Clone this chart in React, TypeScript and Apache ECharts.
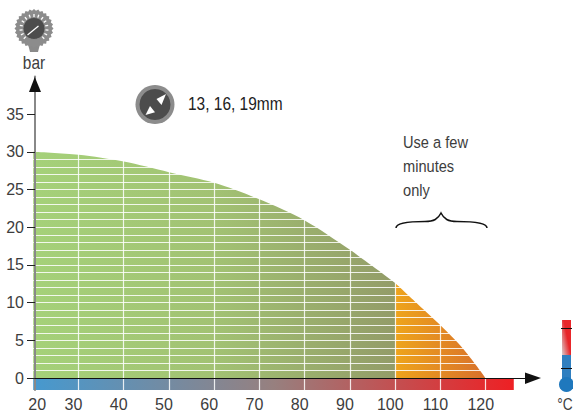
import React, { useEffect, useRef } from "react";
import * as echarts from "echarts";

const yTickValues = [0, 5, 10, 15, 20, 25, 30, 35];
const xTickValues = [20, 30, 40, 50, 60, 70, 80, 90, 100, 110, 120];
const stripeValues = [1,2,3,4,5,6,7,8,9,10,11,12,13,14,15,16,17,18,19,20,21,22,23,24,25,26,27,28,29];
const gridValues = [30, 40, 50, 60, 70, 80, 90, 100, 110, 120];
const greenCurve: [number, number][] = [
  [20, 30], [30, 29.6], [40, 28.7], [50, 27.3], [60, 25.9], [70, 23.7], [80, 20.9], [90, 17], [100, 12.6],
];
const orangeCurve: [number, number][] = [
  [100, 12.6], [105, 9.8], [110, 7], [115, 3.9], [120, 0],
];
const stripCurve: [number, number][] = [[20, -1.6], [126.2, -1.6]];
const note = ["Use a few", "minutes", "only"];
const sizesText = "13, 16, 19mm";

const FONT = '"Liberation Sans", sans-serif';
const TXT = "#3d3d3d";

echarts.graphic.registerShape(
  "brace",
  echarts.graphic.extendPath(
    "M396 228 C396 223 408 221.5 425 221.5 C434 221.5 438 219 441 213 C444 219 448 221.5 457 221.5 C474 221.5 487 223 487 228",
    {}
  )
);

function gearPoints(cx: number, cy: number, r1: number, r2: number, n: number) {
  const pts: number[][] = [];
  for (let i = 0; i < n * 2; i++) {
    const a = (i * Math.PI) / n;
    const r = i % 2 ? r2 : r1;
    pts.push([cx + r * Math.cos(a), cy + r * Math.sin(a)]);
  }
  return pts;
}

function gaugeTicks(cx: number, cy: number) {
  const out: any[] = [];
  for (let i = 0; i <= 14; i++) {
    const a = ((135 + (i * 270) / 14) * Math.PI) / 180;
    out.push({
      type: "line",
      z: 21,
      shape: {
        x1: cx + 11.5 * Math.cos(a),
        y1: cy + 11.5 * Math.sin(a),
        x2: cx + 14.5 * Math.cos(a),
        y2: cy + 14.5 * Math.sin(a),
      },
      style: { stroke: "#fff", lineWidth: 1.3 },
    });
  }
  return out;
}

function narrowText(text: string, x: number, y: number, size: number, fill: string, align = "left") {
  return {
    type: "text",
    z: 20,
    x,
    y,
    scaleX: 0.86,
    style: { x: 0, y: 0, text, align, verticalAlign: "middle", font: `${size}px ${FONT}`, fill },
  };
}

export default function App() {
  const ref = useRef<HTMLDivElement>(null);
  useEffect(() => {
    const chart = echarts.init(ref.current!, undefined, { renderer: "svg" });
    const whiteLine = { color: "rgba(255,255,255,0.85)", width: 1.2, type: "solid" as const };
    chart.setOption({
      animation: false,
      backgroundColor: "#fff",
      grid: { left: 33.2, top: 76.4, width: 491.9, height: 313.7, outerBoundsMode: "none" },
      xAxis: {
        type: "value",
        min: 20,
        max: 128.7,
        z: 10,
        splitLine: { show: false },
        axisTick: { show: false },
        axisLine: { show: true, onZero: true, lineStyle: { color: "#111", width: 1.2 } },
        axisLabel: {
          customValues: xTickValues,
          margin: 6,
          formatter: (v: number) => (v === 20 ? `{first|${v}}` : `{rest|${v}}`),
          rich: {
            first: { padding: [0, 0, 0, 8], fontFamily: FONT, fontSize: 16, color: TXT },
            rest: { padding: [0, 10, 0, 0], fontFamily: FONT, fontSize: 16, color: TXT },
          },
        },
      },
      yAxis: {
        type: "value",
        min: -1.6,
        max: 40,
        z: 10,
        offset: -1.8,
        splitLine: { show: false },
        axisLine: { show: true, lineStyle: { color: "#888", width: 2 } },
        axisTick: { show: true, customValues: yTickValues, length: 8, lineStyle: { color: "#222", width: 1 } },
        axisLabel: { customValues: yTickValues, margin: 11, fontFamily: FONT, fontSize: 16, color: TXT },
      },
      series: [
        {
          type: "line",
          data: stripCurve,
          symbol: "none",
          z: 2,
          lineStyle: { width: 0 },
          areaStyle: {
            origin: 0,
            opacity: 1,
            color: new echarts.graphic.LinearGradient(0, 0, 1, 0, [
              { offset: 0, color: "#4699cf" },
              { offset: 0.5, color: "#97807f" },
              { offset: 1, color: "#ee2024" },
            ]),
          },
        },
        {
          type: "line",
          data: greenCurve,
          smooth: 0.3,
          symbol: "none",
          z: 2,
          lineStyle: { width: 0 },
          areaStyle: {
            origin: 0,
            opacity: 1,
            color: new echarts.graphic.LinearGradient(0, 0, 1, 0, [
              { offset: 0, color: "#a5d179" },
              { offset: 0.5, color: "#a2c273" },
              { offset: 1, color: "#939c68" },
            ]),
          },
        },
        {
          type: "line",
          data: orangeCurve,
          smooth: 0.3,
          symbol: "none",
          z: 2,
          lineStyle: { width: 0 },
          areaStyle: {
            origin: 0,
            opacity: 1,
            color: new echarts.graphic.LinearGradient(0, 0, 1, 0, [
              { offset: 0, color: "#eea41c" },
              { offset: 1, color: "#d8702b" },
            ]),
          },
        },
        {
          type: "line",
          data: [],
          symbol: "none",
          z: 3,
          markLine: {
            silent: true,
            symbol: "none",
            animation: false,
            label: { show: false },
            lineStyle: whiteLine,
            data: [
              ...stripeValues.map((v) => ({ yAxis: v })),
              ...gridValues.map((v) => ({ xAxis: v })),
            ],
          },
        },
      ],
      graphic: {
        elements: [
          // axis arrows
          { type: "polygon", z: 20, shape: { points: [[34.8, 77], [41, 92], [29, 92]] }, style: { fill: "#111" } },
          { type: "polygon", z: 20, shape: { points: [[541, 378], [525, 372.5], [525, 384]] }, style: { fill: "#111" } },
          // gauge
          { type: "polygon", z: 20, shape: { points: [[28, 44], [40, 44], [38, 52], [30, 52]] }, style: { fill: "#8a8a8a" } },
          { type: "polygon", z: 20, shape: { points: gearPoints(34, 28.5, 19.5, 17.8, 28) }, style: { fill: "#8c8c8c" } },
          { type: "circle", z: 20, shape: { cx: 34, cy: 28.5, r: 11 }, style: { fill: "#4c4c4c", stroke: "#8c8c8c", lineWidth: 1 } },
          ...gaugeTicks(34, 28.5),
          { type: "line", z: 21, shape: { x1: 27.5, y1: 35, x2: 38.5, y2: 26 }, style: { stroke: "#fff", lineWidth: 1.2 } },
          narrowText("bar", 34, 63, 18, TXT, "center"),
          // connector icon
          { type: "circle", z: 20, shape: { cx: 155, cy: 104.5, r: 19.5 }, style: { fill: "#8c8c8c" } },
          { type: "circle", z: 20, shape: { cx: 155, cy: 104.5, r: 15.5 }, style: { fill: "#4c4c4c" } },
          { type: "polygon", z: 21, shape: { points: [[166, 94], [156.5, 99], [161.5, 105]] }, style: { fill: "#fff" } },
          { type: "polygon", z: 21, shape: { points: [[145.5, 115], [155, 112.3], [150, 106]] }, style: { fill: "#fff" } },
          narrowText(sizesText, 188, 104, 18, "#222"),
          // note
          ...note.map((t, i) => narrowText(t, 403, 142 + i * 24, 17, TXT)),
          { type: "brace", z: 20, x: 0, y: 0, style: { fill: "none", stroke: "#111", lineWidth: 1.5 } },
          // thermometer
          { type: "rect", z: 20, shape: { x: 562, y: 320, width: 9, height: 36 }, style: { fill: new echarts.graphic.LinearGradient(0, 1, 0.6, 0.5, [{ offset: 0, color: "#d8d0d0" }, { offset: 1, color: "#e8262a" }]) } },
          { type: "rect", z: 20, shape: { x: 562, y: 355, width: 9, height: 25 }, style: { fill: "#2f7fc0" } },
          { type: "circle", z: 20, shape: { cx: 566.5, cy: 384.5, r: 7.5 }, style: { fill: "#1f78bd" } },
          { type: "line", z: 21, shape: { x1: 561, y1: 328.5, x2: 572, y2: 328.5 }, style: { stroke: "#111", lineWidth: 1 } },
          { type: "line", z: 21, shape: { x1: 561, y1: 368.5, x2: 572, y2: 368.5 }, style: { stroke: "#111", lineWidth: 1 } },
          narrowText("°C", 565, 404, 16, TXT, "center"),
        ],
      },
    });
    return () => chart.dispose();
  }, []);
  return <div ref={ref} style={{ width: 573, height: 412, position: "fixed", left: 0, top: 0 }} />;
}
